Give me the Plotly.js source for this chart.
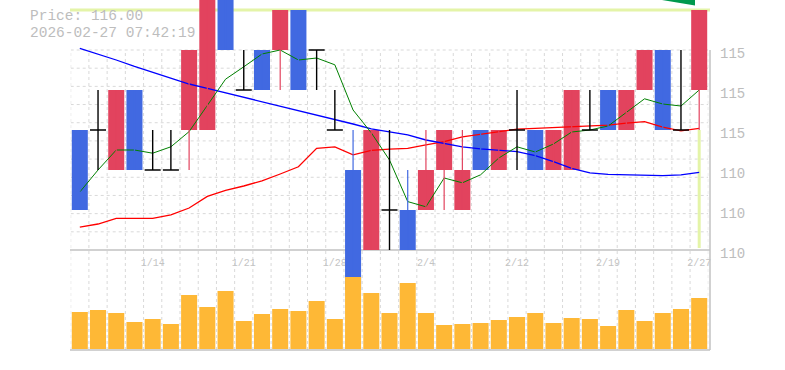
<!DOCTYPE html>
<html><head><meta charset="utf-8">
<script src="https://cdn.plot.ly/plotly-3.0.1.min.js"></script>
<style>html,body{margin:0;padding:0;background:#fff}#chart{width:785px;height:370px}</style>
</head><body><div id="chart"></div>
<script>
// ---- data ----
const dates = ["1/7","1/8","1/9","1/13","1/14","1/15","1/16","1/19","1/20","1/21","1/22","1/23","1/26","1/27","1/28","1/29","1/30","2/2","2/3","2/4","2/5","2/6","2/9","2/10","2/12","2/13","2/16","2/17","2/18","2/19","2/20","2/24","2/25","2/26","2/27"];
const open  = [113,113,112,114,112,112,113,113,117,114,115,115,116,115,113,112,110,111,111,111,112,111,113,112,113,113,112,112,113,114,113,114,115,113,114];
const high  = [113,114,114,114,113,113,115,117,117,115,115,116,116,115,114,113,113,113,112,113,113,113,113,113,114,113,113,114,114,114,114,115,115,115,116];
const low   = [111,112,112,112,112,112,112,113,115,114,114,114,114,114,113,109,110,110,110,111,111,111,112,112,112,112,112,112,113,113,113,114,113,113,113];
const close = [111,113,114,112,112,112,115,117,115,114,114,116,114,115,113,109,113,111,110,112,113,112,112,113,113,112,113,114,113,113,114,115,113,113,116];
const volume = [37000,39000,36000,27000,30000,25000,54000,42000,58000,28000,35000,40000,38000,48000,30000,72000,56000,36000,66000,36000,24000,25000,26000,29000,32000,36000,26000,31000,30000,23000,39000,28000,36000,40000,51000];
const ma5  = [111.45,112.00,112.50,112.50,112.42,112.58,112.96,113.63,114.27,114.58,114.90,115.00,114.75,114.80,114.63,113.50,112.93,112.25,111.21,111.08,111.80,111.68,111.88,112.30,112.58,112.45,112.65,112.95,113.00,113.10,113.43,113.78,113.65,113.60,114.00];
const ma25 = [115.04,114.90,114.75,114.59,114.44,114.29,114.15,114.04,113.93,113.82,113.71,113.60,113.48,113.37,113.26,113.15,113.03,112.95,112.88,112.75,112.67,112.58,112.53,112.50,112.46,112.36,112.21,112.04,111.93,111.89,111.88,111.86,111.86,111.88,111.94];
const ma75 = [110.57,110.65,110.79,110.79,110.79,110.88,111.05,111.34,111.49,111.60,111.73,111.90,112.08,112.54,112.58,112.38,112.49,112.52,112.54,112.63,112.71,112.83,112.89,112.96,113.02,113.04,113.06,113.08,113.09,113.12,113.17,113.21,113.07,112.98,113.04];
const xTickLabels = ["1/14","1/21","1/28","2/4","2/12","2/19","2/27"];
const yTickVals = [110,111,112,113,114,115];
const yTickLabels = ["110","110","110","115","115","115"];
const timestamp = "2026-02-27 07:42:19";

// ---- geometry / style ----
const W = 785, H = 370;
const PL = 70.7, PR = 708.3;        // plot left/right px
const PRICE_TOP_PX = 50, PRICE_BOT_PX = 250, VOL_BOT_PX = 350;
const PX_PER_UNIT = 40;
const TOP_PRICE = 116.25;            // price at pixel 0
const VOL_PER_PX = 1000;
const VOL_BASE_PX = 349;
const RED = '#e2435e', BLUE = '#4169e1', BLACK = '#000000';
const BODY_W = 0.88;
const FONT = 'Liberation Mono, DejaVu Sans Mono, monospace';

const N = dates.length;
const xs = dates.map((d, i) => i + 1);
const pxToPrice = px => TOP_PRICE - px / PX_PER_UNIT;
const pyPaper = px => 1 - px / H;

// wicks and bodies
const wick = {up: {x: [], y: []}, down: {x: [], y: []}, flat: {x: [], y: []}};
const bodyX = [], bodyY = [], bodyBase = [], bodyCol = [];
const dojiX = [], dojiY = [];
for (let i = 0; i < N; i++) {
  const kind = close[i] > open[i] ? 'up' : (close[i] < open[i] ? 'down' : 'flat');
  wick[kind].x.push(xs[i], xs[i], null);
  wick[kind].y.push(low[i], high[i], null);
  if (kind === 'flat') {
    dojiX.push(xs[i] - BODY_W / 2, xs[i] + BODY_W / 2, null);
    dojiY.push(open[i], open[i], null);
  } else {
    bodyX.push(xs[i]);
    bodyY.push(Math.abs(close[i] - open[i]));
    bodyBase.push(Math.min(open[i], close[i]));
    bodyCol.push(kind === 'up' ? RED : BLUE);
  }
}

const traces = [
  {type: 'scatter', mode: 'lines', x: xs, y: ma75, line: {color: '#ff0000', width: 1.3}, hoverinfo: 'skip'},
  {type: 'scatter', mode: 'lines', x: xs, y: ma25, line: {color: '#0000ff', width: 1.3}, hoverinfo: 'skip'},
  {type: 'scatter', mode: 'lines', x: xs, y: ma5, line: {color: '#008000', width: 1}, hoverinfo: 'skip'},
  {type: 'scatter', mode: 'lines', x: wick.up.x, y: wick.up.y, line: {color: RED, width: 1.2}, hoverinfo: 'skip'},
  {type: 'scatter', mode: 'lines', x: wick.down.x, y: wick.down.y, line: {color: BLUE, width: 1.2}, hoverinfo: 'skip'},
  {type: 'scatter', mode: 'lines', x: wick.flat.x, y: wick.flat.y, line: {color: BLACK, width: 1.4}, hoverinfo: 'skip'},
  {type: 'bar', x: bodyX, y: bodyY, base: bodyBase, width: BODY_W, marker: {color: bodyCol, line: {width: 0}}, hoverinfo: 'skip'},
  {type: 'scatter', mode: 'lines', x: dojiX, y: dojiY, line: {color: BLACK, width: 1.5}, hoverinfo: 'skip'},
  {type: 'bar', x: xs, y: volume, yaxis: 'y2', width: BODY_W, marker: {color: '#feb836', line: {width: 0}}, hoverinfo: 'skip'}
];

const shapes = [];
const gridStyle = {color: '#d9d9d9', width: 1, dash: '3px,3px'};
for (let i = 0; i <= N; i++) {
  shapes.push({type: 'line', layer: 'below', xref: 'x', yref: 'paper', x0: i + 0.5, x1: i + 0.5,
    y0: pyPaper(VOL_BOT_PX), y1: pyPaper(PRICE_TOP_PX), line: gridStyle});
}
for (let k = 0; k <= 10; k++) {
  const p = pxToPrice(PRICE_TOP_PX + k * (PRICE_BOT_PX - PRICE_TOP_PX) / 11);
  shapes.push({type: 'line', layer: 'below', xref: 'x', yref: 'y', x0: 0.5, x1: N + 0.5, y0: p, y1: p, line: gridStyle});
}
const axisLine = {color: '#c2c2c2', width: 1.5};
shapes.push({type: 'line', layer: 'below', xref: 'paper', yref: 'paper', x0: 70 / W, x1: 710 / W, y0: pyPaper(PRICE_BOT_PX), y1: pyPaper(PRICE_BOT_PX), line: axisLine});
shapes.push({type: 'line', layer: 'below', xref: 'paper', yref: 'paper', x0: 70 / W, x1: 710 / W, y0: pyPaper(VOL_BOT_PX), y1: pyPaper(VOL_BOT_PX), line: axisLine});
shapes.push({type: 'line', layer: 'below', xref: 'paper', yref: 'paper', x0: 710 / W, x1: 710 / W, y0: pyPaper(VOL_BOT_PX), y1: pyPaper(PRICE_TOP_PX), line: axisLine});
// last price line
const last = close[N - 1];
shapes.push({type: 'line', layer: 'below', xref: 'paper', yref: 'y', x0: 70 / W, x1: 710 / W, y0: last, y1: last, line: {color: '#e4f4a8', width: 3}});
shapes.push({type: 'line', layer: 'below', xref: 'x', yref: 'y', x0: xs[N - 1], x1: xs[N - 1], y0: low[N - 1], y1: pxToPrice(PRICE_BOT_PX - 2), line: {color: '#e4f4a8', width: 3}});
// green marker at top right
shapes.push({type: 'path', layer: 'above', xref: 'paper', yref: 'paper',
  path: `M ${662 / W} ${pyPaper(0)} L ${695 / W} ${pyPaper(0)} L ${695 / W} ${pyPaper(5.5)} Z`,
  fillcolor: '#00994d', line: {width: 0}});

const layout = {
  width: W, height: H,
  margin: {l: 0, r: 0, t: 0, b: 0},
  paper_bgcolor: '#ffffff', plot_bgcolor: 'rgba(0,0,0,0)',
  showlegend: false, barmode: 'overlay', hovermode: false,
  xaxis: {range: [0.5, N + 0.5], domain: [PL / W, PR / W], anchor: 'free', position: pyPaper(PRICE_BOT_PX),
    showgrid: false, zeroline: false, showline: false, ticks: '', layer: 'below traces',
    tickvals: xTickLabels.map(l => dates.indexOf(l) + 1), ticktext: xTickLabels, ticklabelstandoff: 5,
    tickfont: {family: FONT, size: 10, color: '#c4c4c4'}, fixedrange: true},
  yaxis: {range: [pxToPrice(H), TOP_PRICE], domain: [0, 1], side: 'right', anchor: 'free', position: 710 / W,
    showgrid: false, zeroline: false, showline: false, ticks: '',
    tickvals: yTickVals, ticktext: yTickLabels, ticklabelstandoff: 9, ticklabelshift: 3,
    tickfont: {family: FONT, size: 14, color: '#bdbdbd'}, fixedrange: true},
  yaxis2: {overlaying: 'y', range: [-(H - VOL_BASE_PX) * VOL_PER_PX, VOL_BASE_PX * VOL_PER_PX], visible: false, fixedrange: true},
  shapes: shapes,
  annotations: [
    {xref: 'paper', yref: 'paper', x: 28 / W, y: pyPaper(16.5), xanchor: 'left', yanchor: 'middle', showarrow: false,
      text: 'Price: ' + last.toFixed(2), font: {family: FONT, size: 14.5, color: '#bdbdbd'}},
    {xref: 'paper', yref: 'paper', x: 28 / W, y: pyPaper(33), xanchor: 'left', yanchor: 'middle', showarrow: false,
      text: timestamp, font: {family: FONT, size: 14.5, color: '#bdbdbd'}}
  ]
};

Plotly.newPlot('chart', traces, layout, {staticPlot: true, displayModeBar: false});
</script></body></html>
